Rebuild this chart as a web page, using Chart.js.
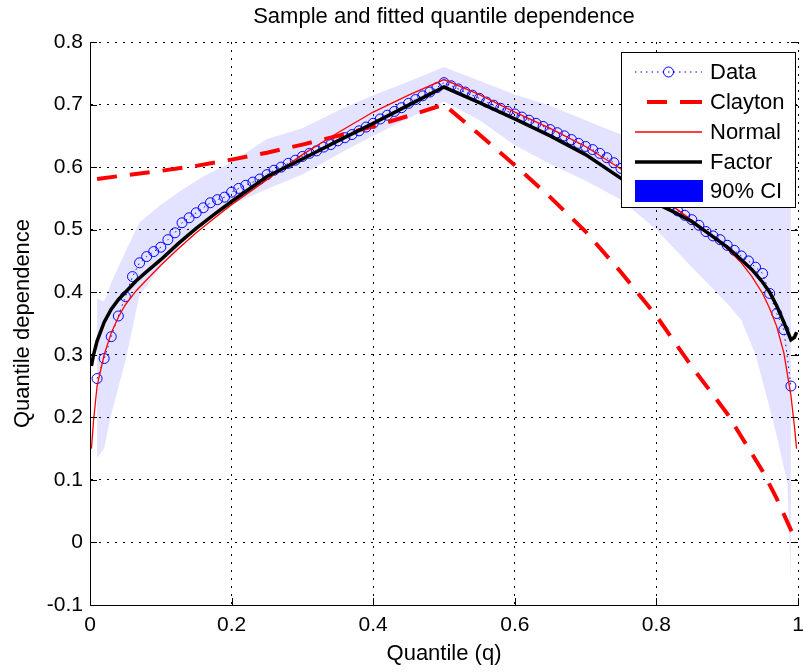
<!DOCTYPE html>
<html>
<head>
<meta charset="utf-8">
<script src="https://cdn.jsdelivr.net/npm/chart.js@4.4.1/dist/chart.umd.min.js"></script>
<style>
  html, body { margin: 0; padding: 0; background: #fff; }
  #wrap { width: 804px; height: 672px; }
</style>
</head>
<body>
<div id="wrap"><canvas id="myChart" width="804" height="672"></canvas></div>
<script>
// sample quantile dependence (circles)
const dataQ = [0.01, 0.02, 0.03, 0.04, 0.05, 0.06, 0.07, 0.08, 0.09, 0.10,
  0.11, 0.12, 0.13, 0.14, 0.15, 0.16, 0.17, 0.18, 0.19, 0.20,
  0.21, 0.22, 0.23, 0.24, 0.25, 0.26, 0.27, 0.28, 0.29, 0.30,
  0.31, 0.32, 0.33, 0.34, 0.35, 0.36, 0.37, 0.38, 0.39, 0.40,
  0.41, 0.42, 0.43, 0.44, 0.45, 0.46, 0.47, 0.48, 0.49, 0.50,
  0.51, 0.52, 0.53, 0.54, 0.55, 0.56, 0.57, 0.58, 0.59, 0.60,
  0.61, 0.62, 0.63, 0.64, 0.65, 0.66, 0.67, 0.68, 0.69, 0.70,
  0.71, 0.72, 0.73, 0.74, 0.75, 0.76, 0.77, 0.78, 0.79, 0.80,
  0.81, 0.82, 0.83, 0.84, 0.85, 0.86, 0.87, 0.88, 0.89, 0.90,
  0.91, 0.92, 0.93, 0.94, 0.95, 0.96, 0.97, 0.98, 0.99];
const dataDep = [0.262, 0.294, 0.329, 0.362, 0.393, 0.425, 0.447, 0.457, 0.465, 0.472,
  0.484, 0.495, 0.511, 0.519, 0.527, 0.535, 0.543, 0.548, 0.552, 0.560,
  0.566, 0.571, 0.576, 0.581, 0.588, 0.595, 0.600, 0.606, 0.611, 0.617,
  0.622, 0.626, 0.632, 0.636, 0.642, 0.647, 0.652, 0.658, 0.664, 0.670,
  0.677, 0.683, 0.689, 0.695, 0.702, 0.708, 0.714, 0.720, 0.727, 0.735,
  0.730, 0.725, 0.720, 0.715, 0.710, 0.704, 0.699, 0.694, 0.689, 0.685,
  0.680, 0.675, 0.670, 0.665, 0.660, 0.655, 0.650, 0.644, 0.638, 0.633,
  0.628, 0.622, 0.615, 0.607, 0.598, 0.590, 0.582, 0.572, 0.563, 0.555,
  0.547, 0.538, 0.530, 0.523, 0.516, 0.507, 0.497, 0.490, 0.484, 0.475,
  0.467, 0.458, 0.450, 0.440, 0.430, 0.398, 0.366, 0.340, 0.250];

// fitted curves
const clayQ = [0.01, 0.05, 0.1, 0.15, 0.2, 0.25, 0.3, 0.35, 0.4, 0.45, 0.5,
  0.55, 0.6, 0.65, 0.7, 0.75, 0.8, 0.85, 0.9, 0.95, 0.97, 0.99, 0.998];
const clayDep = [0.581, 0.587, 0.594, 0.602, 0.612, 0.623, 0.636, 0.650, 0.665, 0.682, 0.700,
  0.652, 0.603, 0.552, 0.497, 0.432, 0.362, 0.281, 0.206, 0.114, 0.070, 0.020, 0.003];

const fitQ = [0.002, 0.005, 0.01, 0.02, 0.03, 0.04, 0.05, 0.065, 0.08, 0.1, 0.125, 0.15, 0.175, 0.2,
  0.25, 0.3, 0.35, 0.4, 0.45, 0.5, 0.55, 0.6, 0.65, 0.7, 0.75,
  0.8, 0.825, 0.85, 0.875, 0.9, 0.92, 0.935, 0.95, 0.96, 0.97, 0.98, 0.99, 0.995, 0.998];
const normalDep = [0.150, 0.195, 0.250, 0.300, 0.335, 0.360, 0.380, 0.402, 0.420, 0.443, 0.470, 0.495, 0.518, 0.540,
  0.580, 0.620, 0.655, 0.688, 0.715, 0.740, 0.716, 0.688, 0.662, 0.633, 0.597,
  0.556, 0.536, 0.515, 0.494, 0.470, 0.447, 0.425, 0.398, 0.374, 0.345, 0.303, 0.235, 0.185, 0.150];
const factorDep = [0.282, 0.300, 0.322, 0.352, 0.373, 0.388, 0.400, 0.418, 0.433, 0.452, 0.478, 0.502, 0.524, 0.545,
  0.585, 0.613, 0.642, 0.670, 0.699, 0.728, 0.703, 0.677, 0.650, 0.620, 0.582,
  0.542, 0.528, 0.513, 0.493, 0.472, 0.452, 0.436, 0.416, 0.400, 0.378, 0.352, 0.324, 0.328, 0.336];

// 90% confidence band
const bandQ = [0.01, 0.02, 0.03, 0.05, 0.07, 0.1, 0.13, 0.16, 0.2, 0.25, 0.3, 0.35, 0.4, 0.45, 0.5,
  0.55, 0.6, 0.65, 0.7, 0.75, 0.8, 0.85, 0.9, 0.92, 0.94, 0.96, 0.97, 0.98, 0.985, 0.99];
const bandUpper = [0.390, 0.385, 0.415, 0.465, 0.512, 0.540, 0.564, 0.585, 0.608, 0.645, 0.662, 0.690, 0.715, 0.737, 0.760,
  0.738, 0.716, 0.698, 0.675, 0.652, 0.630, 0.610, 0.590, 0.580, 0.565, 0.535, 0.555, 0.570, 0.575, 0.580];
const bandLower = [0.135, 0.150, 0.205, 0.290, 0.395, 0.440, 0.478, 0.510, 0.540, 0.565, 0.588, 0.620, 0.650, 0.678, 0.705,
  0.675, 0.635, 0.605, 0.578, 0.548, 0.500, 0.440, 0.382, 0.355, 0.300, 0.215, 0.170, 0.120, 0.095, -0.060];

const xTicks = [0, 0.2, 0.4, 0.6, 0.8, 1];
const xTickLabels = ['0', '0.2', '0.4', '0.6', '0.8', '1'];
const yTicks = [-0.1, 0, 0.1, 0.2, 0.3, 0.4, 0.5, 0.6, 0.7, 0.8];
const yTickLabels = ['-0.1', '0', '0.1', '0.2', '0.3', '0.4', '0.5', '0.6', '0.7', '0.8'];

const legendLabels = ['Data', 'Clayton', 'Normal', 'Factor', '90% CI'];
const chartTitle = 'Sample and fitted quantile dependence';

const FONT = "'Liberation Sans', Arial, Helvetica, sans-serif";

function pts(xs, ys) {
    return xs.map((x, i) => ({x: x, y: ys[i]}));
}

// title centred over the axes, like matlab does
const axesTitle = {
    id: 'axesTitle',
    afterDraw(chart) {
        const {ctx, chartArea: a} = chart;
        ctx.save();
        ctx.fillStyle = '#000';
        ctx.font = '22px ' + FONT;
        ctx.textAlign = 'center';
        ctx.textBaseline = 'middle';
        ctx.fillText(chartTitle, (a.left + a.right) / 2, 16.5);
        ctx.restore();
    }
};

// inward tick marks like the original axes
const frameTicks = {
    id: 'frameTicks',
    afterDatasetsDraw(chart) {
        const {ctx, chartArea: a, scales: {x, y}} = chart;
        ctx.save();
        ctx.strokeStyle = '#000';
        ctx.lineWidth = 1;
        ctx.beginPath();
        yTicks.forEach((v) => {
            const py = Math.round(y.getPixelForValue(v)) + 0.5;
            ctx.moveTo(a.left, py); ctx.lineTo(a.left + 7, py);
            ctx.moveTo(a.right, py); ctx.lineTo(a.right - 7, py);
        });
        xTicks.forEach((v) => {
            const px = Math.round(x.getPixelForValue(v)) + 0.5;
            ctx.moveTo(px, a.bottom); ctx.lineTo(px, a.bottom - 7);
        });
        ctx.stroke();
        ctx.restore();
    }
};

// legend box drawn inside the plot
const boxLegend = {
    id: 'boxLegend',
    afterDraw(chart) {
        const ctx = chart.ctx;
        const bx = 621.5, by = 52.5, bw = 174, bh = 155;
        const rows = [72, 102, 132, 162, 191];
        const x1 = 635, x2 = 702;
        ctx.save();
        ctx.fillStyle = '#fff';
        ctx.fillRect(bx, by, bw, bh);
        ctx.strokeStyle = '#000';
        ctx.lineWidth = 1;
        ctx.strokeRect(bx, by, bw, bh);

        // Data
        ctx.strokeStyle = '#0000FF';
        ctx.lineWidth = 1;
        ctx.setLineDash([1.5, 4]);
        ctx.beginPath(); ctx.moveTo(x1, rows[0]); ctx.lineTo(x2, rows[0]); ctx.stroke();
        ctx.setLineDash([]);
        ctx.beginPath(); ctx.arc(668.5, rows[0], 5, 0, Math.PI * 2); ctx.stroke();

        // Clayton
        ctx.strokeStyle = '#FF0000';
        ctx.lineWidth = 4;
        ctx.beginPath();
        ctx.moveTo(647, rows[1]); ctx.lineTo(667, rows[1]);
        ctx.moveTo(680, rows[1]); ctx.lineTo(702, rows[1]);
        ctx.stroke();

        // Normal
        ctx.lineWidth = 1.3;
        ctx.beginPath(); ctx.moveTo(x1, rows[2]); ctx.lineTo(x2, rows[2]); ctx.stroke();

        // Factor
        ctx.strokeStyle = '#000';
        ctx.lineWidth = 3.5;
        ctx.beginPath(); ctx.moveTo(x1, rows[3]); ctx.lineTo(x2, rows[3]); ctx.stroke();

        // 90% CI
        ctx.fillStyle = '#0000FF';
        ctx.fillRect(635, 180, 68, 22);

        ctx.fillStyle = '#000';
        ctx.font = '22px ' + FONT;
        ctx.textAlign = 'left';
        ctx.textBaseline = 'middle';
        legendLabels.forEach((t, i) => ctx.fillText(t, 710, rows[i] + 1));
        ctx.restore();
    }
};

const ctx = document.getElementById('myChart');
const myChart = new Chart(ctx, {
    type: 'scatter',
    data: {
        datasets: [{
            label: 'CI upper',
            data: pts(bandQ, bandUpper),
            showLine: true,
            borderWidth: 0,
            borderColor: 'rgba(0,0,0,0)',
            pointRadius: 0,
            fill: false,
            order: 10,
        },
        {
            label: 'CI lower',
            data: pts(bandQ, bandLower),
            showLine: true,
            borderWidth: 0,
            borderColor: 'rgba(0,0,0,0)',
            backgroundColor: 'rgba(0,0,255,0.11)',
            pointRadius: 0,
            fill: '-1',
            order: 9,
        },
        {
            label: 'Data',
            data: pts(dataQ, dataDep),
            showLine: true,
            borderColor: '#0000FF',
            borderWidth: 1,
            borderDash: [1.5, 4],
            pointRadius: 5,
            pointBorderColor: '#0000FF',
            pointBackgroundColor: 'rgba(0,0,0,0)',
            pointBorderWidth: 1,
            order: 5,
        },
        {
            label: 'Clayton',
            data: pts(clayQ, clayDep),
            showLine: true,
            borderColor: '#FF0000',
            borderWidth: 4,
            borderDash: [20, 13],
            pointRadius: 0,
            order: 4,
        },
        {
            label: 'Normal',
            data: pts(fitQ, normalDep),
            showLine: true,
            borderColor: '#FF0000',
            borderWidth: 1.3,
            pointRadius: 0,
            order: 3,
        },
        {
            label: 'Factor',
            data: pts(fitQ, factorDep),
            showLine: true,
            borderColor: '#000000',
            borderWidth: 3.5,
            pointRadius: 0,
            order: 2,
        }]
    },
    options: {
        responsive: false,
        animation: false,
        events: [],
        layout: {padding: {left: 6, right: 1, top: 42, bottom: 0}},
        plugins: {
            legend: {display: false},
            tooltip: {enabled: false},
            title: {display: false},
        },
        scales: {
            x: {
                type: 'linear',
                min: 0,
                max: 1,
                afterBuildTicks: (s) => { s.ticks = xTicks.map(v => ({value: v})); },
                afterFit: (s) => { s.height = 67; s.paddingRight = 0; s.paddingLeft = 0; },
                ticks: {
                    color: '#000',
                    font: {family: FONT, size: 21},
                    padding: 8,
                    maxRotation: 0,
                    autoSkip: false,
                    callback: (v, i) => xTickLabels[i],
                },
                grid: {color: '#000', lineWidth: 1, drawTicks: false},
                border: {display: true, color: '#000', width: 1, dash: [2, 6]},
                title: {
                    display: true,
                    text: 'Quantile (q)',
                    color: '#000',
                    font: {family: FONT, size: 22},
                    padding: {top: 0, bottom: 5},
                },
            },
            y: {
                type: 'linear',
                min: -0.1,
                max: 0.8,
                afterBuildTicks: (s) => { s.ticks = yTicks.map(v => ({value: v})); },
                afterFit: (s) => { s.width = 84; s.paddingTop = 0; },
                ticks: {
                    color: '#000',
                    font: {family: FONT, size: 21},
                    padding: 7,
                    autoSkip: false,
                    callback: (v, i) => yTickLabels[i],
                },
                grid: {color: '#000', lineWidth: 1, drawTicks: false},
                border: {display: true, color: '#000', width: 1, dash: [2, 6]},
                title: {
                    display: true,
                    text: 'Quantile dependence',
                    color: '#000',
                    font: {family: FONT, size: 22},
                    padding: {top: 4, bottom: 0},
                },
            }
        }
    },
    plugins: [axesTitle, frameTicks, boxLegend],
});
</script>
</body>
</html>
